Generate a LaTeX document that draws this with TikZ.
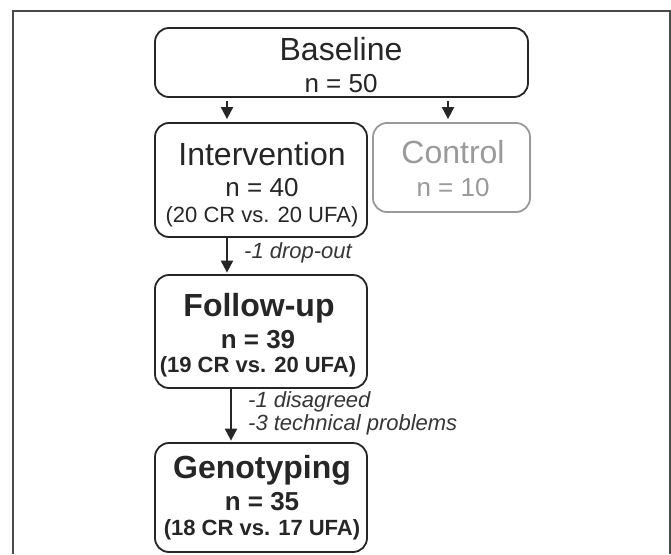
\documentclass[tikz,border=0pt]{standalone}
\usepackage{fontspec}
\setmainfont{Liberation Sans}
\usetikzlibrary{arrows.meta}
\definecolor{ink}{HTML}{262626}
\definecolor{framecol}{HTML}{4A4A4A}
\definecolor{ctrl}{HTML}{9A9A9A}
\definecolor{notecol}{HTML}{363636}
\begin{document}
\begin{tikzpicture}[x=1pt,y=-1pt,
  box/.style={draw=ink, line width=1.8pt, rounded corners=14pt, inner sep=0pt},
  arr/.style={draw=ink, line width=2pt, -{Triangle[width=12pt,length=12pt]}},
  big/.style={anchor=base, inner sep=0pt, text=ink, font=\fontsize{32}{36}\selectfont},
  mid/.style={anchor=base, inner sep=0pt, text=ink, font=\fontsize{26}{30}\selectfont},
  small/.style={anchor=base, inner sep=0pt, text=ink, font=\fontsize{22}{26}\selectfont},
  note/.style={anchor=base west, inner sep=0pt, text=notecol, font=\fontsize{22}{25}\selectfont\itshape}]
\useasboundingbox (0,0) rectangle (671,554);
\fill[white] (0,0) rectangle (671,554);
\draw[framecol, line width=1.3pt] (13,554) -- (13,11) -- (670,11) -- (670,554);

% boxes
\node[box, minimum width=373pt, minimum height=69pt] (base) at (341.5,62.5) {};
\node[box, minimum width=212pt, minimum height=114pt] (int) at (261,180) {};
\node[box, draw=ctrl, minimum width=157pt, minimum height=89pt] (ctl) at (451.5,167.5) {};
\node[box, minimum width=212pt, minimum height=113pt] (fu) at (261,331.5) {};
\node[box, minimum width=212pt, minimum height=109pt] (gen) at (261,497.5) {};

% texts
\node[big] (baseA) at (341,60) {Baseline};
\node[mid] (baseB) at (341,92) {n = 50};
\node[big] (intA) at (262,165) {Intervention};
\node[mid] (intB) at (262,196.5) {n = 40};
\node[small] (intC) at (262,222) {(20 CR vs. 20 UFA)};
\node[big, text=ctrl] (ctlA) at (453,163) {Control};
\node[mid, text=ctrl] (ctlB) at (453,196.5) {n = 10};
\node[big, font=\fontsize{32}{36}\selectfont\bfseries] (fuA) at (259,316.5) {Follow-up};
\node[mid, font=\fontsize{26}{30}\selectfont\bfseries] (fuB) at (258,348) {n = 39};
\node[small, font=\fontsize{22}{26}\selectfont\bfseries] (fuC) at (258,372) {(19 CR vs. 20 UFA)};
\node[big, font=\fontsize{32}{36}\selectfont\bfseries] (genA) at (262,478) {Genotyping};
\node[mid, font=\fontsize{26}{30}\selectfont\bfseries] (genB) at (262,510) {n = 35};
\node[small, font=\fontsize{22}{26}\selectfont\bfseries] (genC) at (262,535) {(18 CR vs. 17 UFA)};

% connector x positions
\coordinate (xa) at (227,0);
\coordinate (xb) at (448,0);
\coordinate (xc) at (227,0);
\coordinate (xd) at (231,0);

\draw[arr, shorten <=3pt, shorten >=3pt] (base.south -| xa) -- (int.north -| xa);
\draw[arr, shorten <=3pt, shorten >=3pt] (base.south -| xb) -- (ctl.north -| xb);
\draw[arr, shorten >=1.5pt] (int.south -| xc) -- (fu.north -| xc);
\draw[arr, shorten >=1.5pt] (fu.south -| xd) -- (gen.north -| xd);

% notes
\node[note] (n1) at (244,258) {-1 drop-out};
\node[note] (n2) at (248,407) {-1 disagreed};
\node[note] (n3) at (248,430) {-3 technical problems};
\end{tikzpicture}
\end{document}
